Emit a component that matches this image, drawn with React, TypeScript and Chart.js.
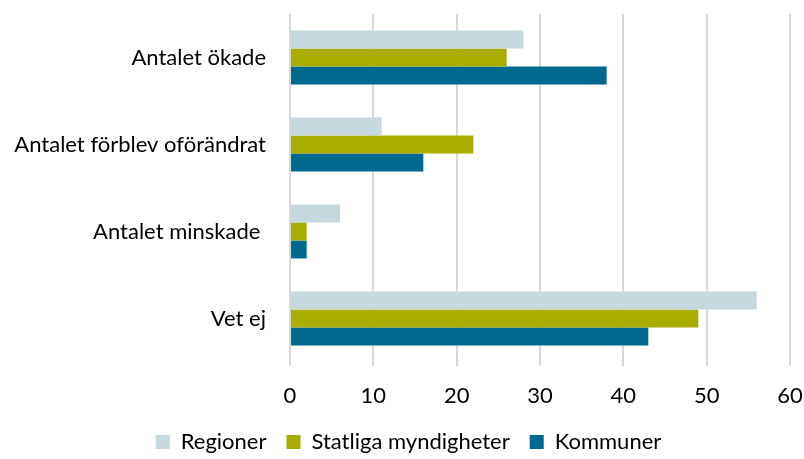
import React, { useEffect, useRef } from "react";
import { Chart, registerables } from "chart.js";

Chart.register(...registerables);

const categories = ["Antalet ökade", "Antalet förblev oförändrat", "Antalet minskade ", "Vet ej"];
const regioner = [28, 11, 6, 56];
const statliga = [26, 22, 2, 49];
const kommuner = [38, 16, 2, 43];
const xTicks = [0, 10, 20, 30, 40, 50, 60];

const FONT = "Lato, 'Open Sans', sans-serif";

export default function App() {
  const ref = useRef<HTMLCanvasElement | null>(null);
  useEffect(() => {
    if (!ref.current) return;
    const legendFix = {
      id: "legendFix",
      beforeLayout(chart: any) {
        const lg = chart.legend;
        if (lg && !lg.__fixed) {
          const orig = lg.fit.bind(lg);
          lg.fit = function () {
            orig();
            this.height = 48;
          };
          lg.__fixed = true;
        }
      },
      afterLayout(chart: any) {
        const lg = chart.legend;
        if (lg) {
          lg.left = 13;
          lg.right = 804;
        }
      },
    };
    const chart = new Chart(ref.current, {
      type: "bar",
      data: {
        labels: categories,
        datasets: [
          { label: "Regioner", data: regioner, backgroundColor: "#c5d9de" },
          { label: "Statliga myndigheter", data: statliga, backgroundColor: "#a8ad00" },
          { label: "Kommuner", data: kommuner, backgroundColor: "#006a8e" },
        ],
      },
      options: {
        indexAxis: "y",
        animation: false,
        responsive: false,
        maintainAspectRatio: false,
        datasets: { bar: { barPercentage: 1, categoryPercentage: 0.62 } },
        layout: { padding: { top: 14, right: 14, left: 0, bottom: 0 } },
        plugins: {
          tooltip: { enabled: false },
          legend: {
            position: "bottom",
            labels: {
              boxWidth: 14,
              boxHeight: 14,
              padding: 20,
              color: "#000",
              font: { family: FONT, size: 22 },
            },
          },
        },
        scales: {
          x: {
            min: 0,
            max: 60,
            afterBuildTicks: (s: any) => {
              s.ticks = xTicks.map((v) => ({ value: v }));
            },
            grid: { color: "#d9d9d9", lineWidth: 2, drawTicks: true, tickLength: 4 },
            border: { display: false },
            ticks: { color: "#000", font: { family: FONT, size: 22 }, padding: 17, maxRotation: 0 },
            afterFit: (s: any) => {
              s.height = 49;
              s.paddingLeft = 0;
              s.paddingRight = 0;
            },
          },
          y: {
            grid: { display: false, drawTicks: false },
            border: { display: false },
            ticks: { color: "#000", font: { family: FONT, size: 22 }, padding: 24 },
            afterFit: (s: any) => {
              s.width = 290;
              s.paddingTop = 0;
              s.paddingBottom = 0;
            },
          },
        },
      },
      plugins: [legendFix],
    });
    return () => chart.destroy();
  }, []);
  return (
    <div style={{ position: "fixed", left: 0, top: 0, width: 804, height: 459, background: "#fff" }}>
      <canvas ref={ref} width={804} height={459} />
    </div>
  );
}
